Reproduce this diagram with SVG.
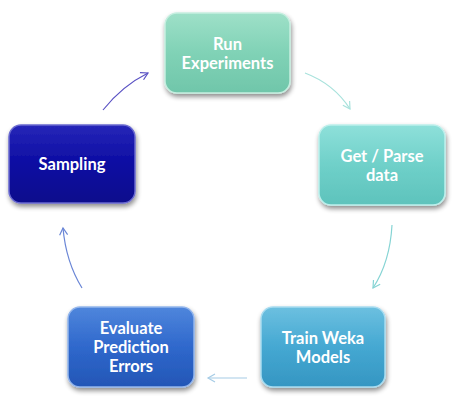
<svg xmlns="http://www.w3.org/2000/svg" width="458" height="400" viewBox="0 0 458 400">
<defs>
<filter id="sh" x="-20%" y="-20%" width="140%" height="150%">
<feGaussianBlur in="SourceAlpha" stdDeviation="2.5"/>
<feOffset dx="1" dy="3" result="b"/>
<feComponentTransfer><feFuncA type="linear" slope="0.45"/></feComponentTransfer>
<feMerge><feMergeNode/><feMergeNode in="SourceGraphic"/></feMerge>
</filter>
<linearGradient id="g1" x1="0" y1="0" x2="0" y2="1"><stop offset="0" stop-color="#9ee0c8"/><stop offset="0.5" stop-color="#80d2b6"/><stop offset="1" stop-color="#70c6aa"/></linearGradient>
<linearGradient id="g2" x1="0" y1="0" x2="0" y2="1"><stop offset="0" stop-color="#8ee0da"/><stop offset="0.5" stop-color="#6fd0c9"/><stop offset="1" stop-color="#5ec3bc"/></linearGradient>
<linearGradient id="g3" x1="0" y1="0" x2="0" y2="1"><stop offset="0" stop-color="#6cc0e0"/><stop offset="0.5" stop-color="#45a8d2"/><stop offset="1" stop-color="#3596c2"/></linearGradient>
<linearGradient id="g4" x1="0" y1="0" x2="0" y2="1"><stop offset="0" stop-color="#4f86dc"/><stop offset="0.5" stop-color="#2f68cc"/><stop offset="1" stop-color="#2356b6"/></linearGradient>
<linearGradient id="g5" x1="0" y1="0" x2="0" y2="1"><stop offset="0" stop-color="#2626b8"/><stop offset="0.5" stop-color="#0c0ca2"/><stop offset="1" stop-color="#08088c"/></linearGradient>
<marker id="a1" markerWidth="10" markerHeight="10" refX="8" refY="5" orient="auto" markerUnits="userSpaceOnUse"><path d="M1,1 L8,5 L1,9" fill="none" stroke="context-stroke" stroke-width="1.2"/></marker>
</defs>
<style>
.box{stroke-width:1.5;filter:url(#sh)}
.t{font-family:Lato,"Open Sans","Liberation Sans",sans-serif;font-weight:bold;font-size:16.5px;fill:#ffffff;text-anchor:middle}
.c{fill:none;stroke-width:1.2;marker-end:url(#a1)}
</style>
<g id="connectors">
<path class="c" d="M103,110 Q122,86 148,73" stroke="#5a52c4"/>
<path class="c" d="M305,73 Q334,84 350,109" stroke="#a8e2dc"/>
<path class="c" d="M392,225 Q390,262 373,288" stroke="#86d4d4"/>
<path class="c" d="M247,378 L208,378" stroke="#a6cce6"/>
<path class="c" d="M82,288 Q66,262 63,228" stroke="#6a86d6"/>
</g>
<g id="run">
<rect class="box" x="165" y="13" width="125" height="80" rx="12" fill="url(#g1)" stroke="#c6eee0"/>
<text class="t" x="227.5" y="50">Run</text>
<text class="t" x="227.5" y="69">Experiments</text>
</g>
<g id="parse">
<rect class="box" x="319" y="125" width="126" height="80" rx="12" fill="url(#g2)" stroke="#bcefeb"/>
<text class="t" x="382" y="162">Get / Parse</text>
<text class="t" x="382" y="181">data</text>
</g>
<g id="train">
<rect class="box" x="261" y="307" width="124" height="80" rx="12" fill="url(#g3)" stroke="#a8dcf0"/>
<text class="t" x="323" y="344">Train Weka</text>
<text class="t" x="323" y="363">Models</text>
</g>
<g id="evaluate">
<rect class="box" x="68" y="307" width="126" height="80" rx="12" fill="url(#g4)" stroke="#94b6ec"/>
<text class="t" x="131" y="334">Evaluate</text>
<text class="t" x="131" y="353">Prediction</text>
<text class="t" x="131" y="372">Errors</text>
</g>
<g id="sampling">
<rect class="box" x="9" y="125" width="126" height="78" rx="12" fill="url(#g5)" stroke="#6a6ad0"/>
<text class="t" x="72" y="170">Sampling</text>
</g>
</svg>
